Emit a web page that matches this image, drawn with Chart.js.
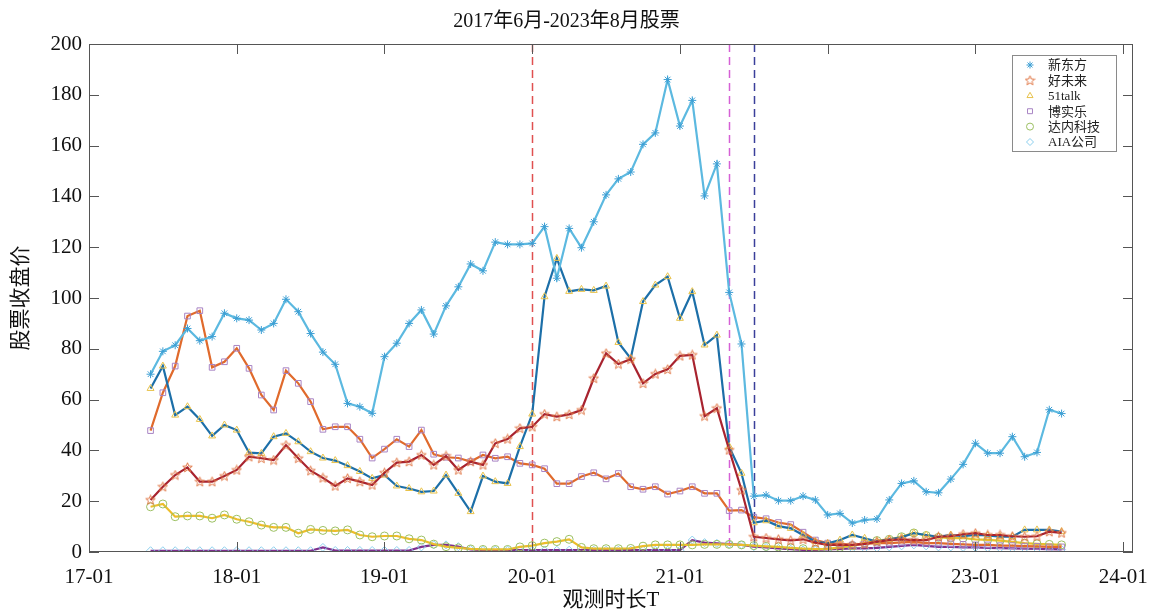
<!DOCTYPE html>
<html>
<head>
<meta charset="utf-8">
<script src="https://cdn.jsdelivr.net/npm/chart.js@4.4.1/dist/chart.umd.min.js"></script>
<style>
  html, body { margin: 0; padding: 0; background: #fff; }
  #wrap { width: 1150px; height: 614px; }
</style>
</head>
<body>
<div id="wrap"><canvas id="c"></canvas></div>
<script>
/* monthly closes, 2017-06 .. 2023-08 */

const tickLabels = ['17-01', '18-01', '19-01', '20-01', '21-01', '22-01', '23-01', '24-01'];
const startMonth = 5;   // months after 2017-01
const xMax = 84.8;      // axis runs a little past 24-01

const xdf = [70, 79, 81.4, 88, 83.2, 84.8, 94, 92, 91.3, 87.4, 90, 99.5, 94.6, 86, 78.7,
  73.9, 58.5, 57.2, 54.6, 76.9, 82.2, 90, 95.3, 85.8, 96.9, 104.4, 113.4, 110.7, 122, 121.1,
  121.1, 121.5, 128.1, 107.8, 127.4, 119.8, 130, 140.6, 146.9, 149.6, 160.5, 165, 186, 167.7, 177.8,
  140.2, 152.8, 102.2, 81.9, 22, 22.4, 20.2, 20.2, 22, 20.5, 14.6, 15.2, 11.4, 12.6, 13,
  20.5, 27, 28, 23.7, 23.3, 28.7, 34.5, 42.8, 38.9, 38.9, 45.4, 37.5, 39.2, 56, 54.5];

const tal = [20.5, 25.7, 30.3, 33.3, 27.7, 27.7, 29.9, 32.3, 37.5, 36.9, 36.2, 42.1, 36.9, 32, 29.2,
  26, 29, 27.7, 26.4, 31.2, 35.2, 35.6, 38.2, 34.3, 37.8, 32.3, 35.6, 34.3, 42.8, 44.5,
  48.7, 49.3, 54.3, 53.3, 54.2, 55.9, 68.4, 78.2, 74, 75.9, 66.4, 70.1, 71.9, 77.2, 77.6,
  53.5, 56.6, 40.2, 24.4, 6, 5.5, 5, 4.6, 5, 3.7, 2.8, 2.8, 2.8, 3.2, 4.1,
  4.7, 5, 4.7, 4.7, 6, 6.2, 7, 7.4, 6.7, 6.7, 6.2, 6, 6.2, 8, 7.5];

const talk51 = [64.4, 73.2, 53.9, 57.2, 52.2, 45.7, 50, 48, 39.1, 38.8, 45.4, 46.7, 43.4, 39.5, 37,
  36, 34, 31.7, 29, 30.3, 26, 25, 23.7, 24, 30.3, 23.1, 15.9, 29.9, 27.7, 27,
  41.5, 54.3, 100.5, 115.6, 102.6, 103.4, 103, 104.7, 82.5, 76.2, 98.6, 105.1, 108.4, 92, 102.5,
  81.5, 85.4, 41.5, 31, 11.5, 12.3, 10.2, 9.3, 6.7, 4.1, 3.4, 4.7, 6.7, 5.4, 4.1,
  5, 5.8, 7.4, 6.7, 6, 6.7, 6.2, 6.7, 6.5, 6, 6, 8.7, 8.7, 8.7, 8];

const bright = [47.8, 62.7, 73.2, 92.9, 95, 72.7, 74.9, 80.2, 72.3, 61.8, 55.9, 71.4, 66.4, 59.2, 48.3,
  49.3, 49.3, 44.4, 37, 40.5, 44.4, 41.5, 48, 38.5, 37.3, 37, 35.6, 38.2, 36.9, 37.5,
  34.9, 34.3, 32.8, 26.9, 26.9, 29.7, 31.2, 28.8, 30.9, 25.7, 24.7, 25.7, 22.8, 24, 25.7,
  23.1, 23.1, 16.3, 16.5, 13.7, 13.1, 11.6, 10.8, 7.8, 4.7, 3.5, 3.2, 2.8, 3.2, 3.5,
  3.5, 3.8, 4, 3.5, 3.5, 3.2, 3, 2.8, 2.8, 2.5, 2.5, 2.3, 2.2, 2, 2];

const tarena = [17.8, 18.9, 13.9, 14.2, 14.2, 13.3, 14.6, 12.9, 11.9, 10.6, 9.7, 9.7, 7.4, 8.9, 8.5,
  8.3, 8.7, 6.7, 6, 6.3, 6.3, 5.2, 4.7, 3.1, 2.1, 1.6, 1.2, 1, 1, 1,
  2, 2.5, 3.5, 4.1, 5, 1.8, 1.3, 1.3, 1.3, 1.4, 2.3, 2.8, 2.8, 2.8, 2.8,
  3, 3, 3, 2.8, 2.5, 2.2, 2, 1.6, 1.3, 1.1, 1.2, 1.8, 2.5, 3.5, 4.5,
  5, 6, 7.5, 6.5, 5.8, 5.5, 5.5, 5, 4.8, 4.5, 4, 3.5, 3.2, 3, 2.8];

const aia = [0.5, 0.5, 0.5, 0.5, 0.5, 0.5, 0.5, 0.5, 0.5, 0.5, 0.5, 0.5, 0.5, 0.5, 1.8,
  0.6, 0.6, 0.6, 0.6, 0.6, 0.6, 0.6, 2, 2.8, 2.8, 2.1, 1, 0.7, 0.7, 0.7,
  0.7, 0.7, 0.7, 0.7, 0.7, 0.7, 0.7, 0.7, 0.7, 0.7, 0.7, 0.7, 0.7, 0.7, 4.7,
  3.7, 3.4, 3.1, 2.8, 2.1, 1.8, 1.4, 1.1, 0.8, 0.8, 1, 1.2, 1.4, 1.4, 1.6,
  2, 2.4, 2.8, 2.4, 2, 2, 1.8, 1.8, 1.6, 1.5, 1.4, 1.3, 1.2, 1.1, 1];

// vertical dashed markers: 2020-01, 2021-05, 2021-07
const eventMonths = [36, 52, 54];
const eventColors = ['#e05050', '#d560d5', '#3a3f9a'];

const FONT = "'Liberation Serif', 'Noto Sans CJK SC', serif";

function pentagram(color) {
  const c = document.createElement('canvas');
  c.width = 11; c.height = 11;
  const g = c.getContext('2d');
  g.strokeStyle = color;
  g.lineWidth = 1;
  g.beginPath();
  for (let k = 0; k < 10; k++) {
    const r = k % 2 ? 2.2 : 5;
    const a = -Math.PI / 2 + k * Math.PI / 5;
    const px = 5.5 + r * Math.cos(a), py = 5.8 + r * Math.sin(a);
    k ? g.lineTo(px, py) : g.moveTo(px, py);
  }
  g.closePath();
  g.stroke();
  return c;
}

function pts(vals) {
  return vals.map((v, i) => ({ x: startMonth + i, y: v }));
}

function series(label, vals, line, mark, style) {
  return {
    label,
    data: pts(vals),
    borderColor: line,
    borderWidth: 2.2,
    pointStyle: style,
    pointRadius: 4,
    pointHoverRadius: 4,
    pointBorderWidth: 1,
    pointBorderColor: mark,
    pointBackgroundColor: 'rgba(0,0,0,0)',
    tension: 0,
    fill: false,
  };
}

const datasets = [
  series('新东方', xdf, '#5cb9e0', '#3d9fd4', 'star'),
  series('好未来', tal, '#a8232f', '#e07848', pentagram('#e07848')),
  series('51talk', talk51, '#1c6fa8', '#e8c24a', 'triangle'),
  series('博实乐', bright, '#e06a2c', '#a884c4', 'rect'),
  series('达内科技', tarena, '#ecbd2a', '#9cc062', 'circle'),
  series('AIA公司', aia, '#7e2f8e', '#8ccfee', 'rectRot'),
];

const framePlugin = {
  id: 'frame',
  beforeDatasetsDraw(chart) {
    const { ctx, chartArea: a, scales: { x } } = chart;
    ctx.save();
    ctx.lineWidth = 1.5;
    ctx.setLineDash([8, 5]);
    eventMonths.forEach((m, k) => {
      const px = Math.round(x.getPixelForValue(m)) + 0.5;
      ctx.strokeStyle = eventColors[k];
      ctx.beginPath();
      ctx.moveTo(px, a.top);
      ctx.lineTo(px, a.bottom);
      ctx.stroke();
    });
    ctx.restore();
  },
  afterDatasetsDraw(chart) {
    const { ctx, chartArea: a, scales: { x, y } } = chart;
    ctx.save();
    ctx.strokeStyle = '#555';
    ctx.lineWidth = 1;
    ctx.strokeRect(a.left + 0.5, a.top + 0.5, a.right - a.left - 1, a.bottom - a.top - 1);
    const tl = 10;
    ctx.beginPath();
    x.ticks.forEach(t => {
      const px = Math.round(x.getPixelForValue(t.value)) + 0.5;
      ctx.moveTo(px, a.bottom); ctx.lineTo(px, a.bottom - tl);
      ctx.moveTo(px, a.top); ctx.lineTo(px, a.top + tl);
    });
    y.ticks.forEach(t => {
      const py = Math.round(y.getPixelForValue(t.value)) + 0.5;
      ctx.moveTo(a.left, py); ctx.lineTo(a.left + tl, py);
      ctx.moveTo(a.right, py); ctx.lineTo(a.right - tl, py);
    });
    ctx.stroke();

    // legend box
    const bx = 1012, by = 55, bw = 104, bh = 96;
    ctx.fillStyle = '#fff';
    ctx.fillRect(bx, by, bw, bh);
    ctx.strokeStyle = '#8a8a8a';
    ctx.strokeRect(bx + 0.5, by + 0.5, bw, bh);
    ctx.font = '13px ' + FONT;
    ctx.textBaseline = 'middle';
    chart.data.datasets.forEach((ds, k) => {
      const cy = by + 10 + k * 15.4;
      ctx.strokeStyle = ds.pointBorderColor;
      ctx.fillStyle = 'rgba(0,0,0,0)';
      ctx.lineWidth = 1;
      Chart.helpers.drawPoint(ctx, { pointStyle: ds.pointStyle, radius: 3.5, borderWidth: 1, rotation: 0 }, bx + 18, cy);
      ctx.fillStyle = '#222';
      ctx.fillText(ds.label, bx + 36, cy + 1);
    });
    ctx.restore();
  }
};

new Chart(document.getElementById('c'), {
  type: 'line',
  data: { datasets },
  options: {
    responsive: true,
    maintainAspectRatio: false,
    animation: false,
    layout: { padding: { left: 0, right: 17, top: 0, bottom: 0 } },
    plugins: {
      legend: { display: false },
      tooltip: { enabled: false },
      title: {
        display: true,
        text: '2017年6月-2023年8月股票',
        color: '#111',
        font: { family: FONT, size: 20, weight: 'normal' },
        padding: { top: 10, bottom: 10 },
      },
    },
    scales: {
      x: {
        type: 'linear',
        min: 0,
        max: xMax,
        grid: { display: false, drawTicks: false },
        border: { display: false },
        afterBuildTicks: s => { s.ticks = tickLabels.map((_, k) => ({ value: k * 12 })); },
        ticks: {
          autoSkip: false,
          maxRotation: 0,
          padding: 13,
          color: '#111',
          font: { family: FONT, size: 21 },
          callback: v => tickLabels[Math.round(v / 12)],
        },
        title: {
          display: true,
          text: '观测时长T',
          color: '#111',
          font: { family: FONT, size: 21 },
          padding: { top: 0, bottom: 1 },
        },
        afterFit: s => { s.height = 62; s.paddingLeft = 0; s.paddingRight = 0; },
      },
      y: {
        min: 0,
        max: 200,
        grid: { display: false, drawTicks: false },
        border: { display: false },
        ticks: {
          stepSize: 20,
          padding: 7,
          color: '#111',
          font: { family: FONT, size: 21 },
        },
        title: {
          display: true,
          text: '股票收盘价',
          color: '#111',
          font: { family: FONT, size: 21 },
          padding: { top: 9, bottom: 0 },
        },
        afterFit: s => { s.width = 89; s.paddingTop = 0; s.paddingBottom = 0; },
      },
    },
  },
  plugins: [framePlugin],
});
</script>
</body>
</html>
